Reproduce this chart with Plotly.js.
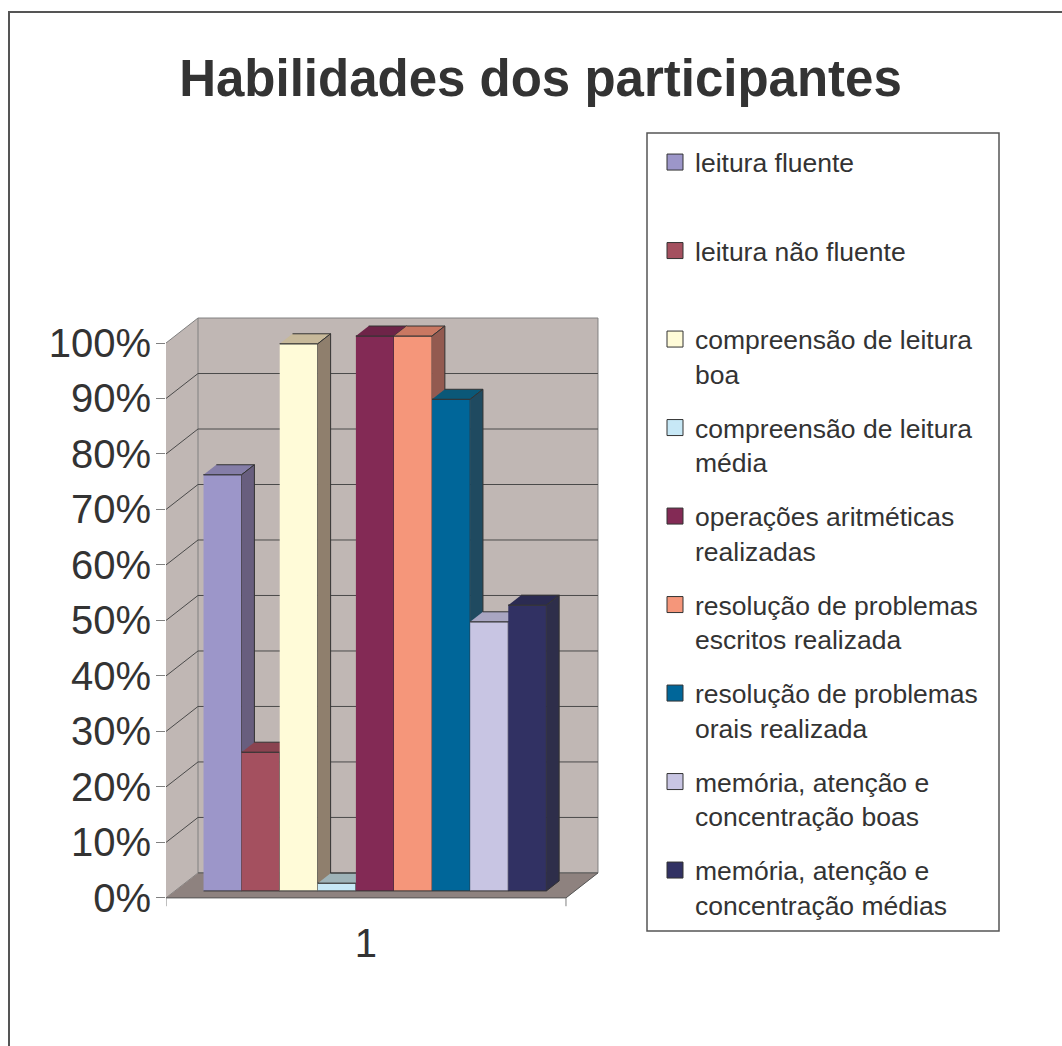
<!DOCTYPE html>
<html><head><meta charset="utf-8">
<script src="https://cdn.plot.ly/plotly-3.0.1.min.js"></script>
<style>html,body{margin:0;padding:0;background:#fff}</style>
</head><body><div id="chart" style="width:1062px;height:1046px"></div>
<script>
// ---- data ----
const categories = ["1"];
const seriesNames = [
  "leitura fluente",
  "leitura não fluente",
  "compreensão de leitura boa",
  "compreensão de leitura média",
  "operações aritméticas realizadas",
  "resolução de problemas escritos realizada",
  "resolução de problemas orais realizada",
  "memória, atenção e concentração boas",
  "memória, atenção e concentração médias"
];
const legendLabels = [
  "leitura fluente<br> ",
  "leitura não fluente<br> ",
  "compreensão de leitura<br>boa",
  "compreensão de leitura<br>média",
  "operações aritméticas<br>realizadas",
  "resolução de problemas<br>escritos realizada",
  "resolução de problemas<br>orais realizada",
  "memória, atenção e<br>concentração boas",
  "memória, atenção e<br>concentração médias"
];
const seriesValues = [0.75, 0.25, 0.986, 0.014, 1.00, 1.00, 0.886, 0.485, 0.515];
const yTickValues = [0, 0.1, 0.2, 0.3, 0.4, 0.5, 0.6, 0.7, 0.8, 0.9, 1.0];

// ---- styles ----
const frontColors = ["#9C96C9","#A4505F","#FFFBD8","#C7E8F6","#832A55","#F5967A","#006699","#C8C5E3","#313163"];
const topColors   = ["#857EA8","#8A4350","#C7B99A","#9EB3B8","#6E2448","#C97862","#0B5878","#A9A6C2","#2B2B52"];
const sideColors  = ["#685E7E","#6E3540","#8F7F6D","#7F9298","#561B38","#935A50","#1F4A60","#8A879E","#2E2E4A"];
const edge = "#333333";
const textColor = "#333333";
const FONT = "Liberation Sans, Arial, Helvetica, sans-serif";

// ---- 3D geometry (layout constants, in axis units) ----
const GAP = 0.75;                 // gap on each side of the cluster (bar widths)
const W = seriesValues.length + 2 * GAP;   // width of the front plane
const DX = 0.84, DY = 0.045;      // full depth offset of the walls
const F0 = 0.28, FD = 0.40;       // bar front depth fraction, bar depth fraction
const fx = F0 * DX, fy = F0 * DY, bx = FD * DX, by = FD * DY;

// pixel frame
const L = 166, PW = 434, T = 300, PH = 609.1;
const Y0 = -0.02, Y1 = 1.0775, X1 = 11.393;
const px2x = p => (p - L) / PW;
const py2y = p => (T + PH - p) / PH;

const traces = [];
const poly = (xs, ys, fill, line, lw) => ({
  type: "scatter", mode: "lines", x: xs, y: ys, fill: "toself",
  fillcolor: fill, line: {color: line, width: lw}, hoverinfo: "skip", showlegend: false
});

// back wall
traces.push(poly([DX, W + DX, W + DX, DX], [DY, DY, 1 + DY, 1 + DY], "#C0B7B4", "#808080", 1));
// left wall
traces.push(poly([0, DX, DX, 0], [0, DY, 1 + DY, 1], "#C0B7B4", "#808080", 1));
// floor
traces.push(poly([0, W, W + DX, DX], [0, 0, DY, DY], "#8E827F", "#555555", 1));

// grid lines on walls
const gx = [], gy = [];
yTickValues.forEach(v => {
  if (v > 0 && v < 1) {
    gx.push(0, DX, W + DX, null);
    gy.push(v, v + DY, v + DY, null);
  }
});
traces.push({type: "scatter", mode: "lines", x: gx, y: gy, line: {color: "#4A4A4A", width: 1},
  hoverinfo: "skip", showlegend: false});

// category tick marks at the floor front edge
traces.push({type: "scatter", mode: "lines", x: [0, 0, null, W, W], y: [0, -0.015, null, 0, -0.015],
  line: {color: "#808080", width: 1}, hoverinfo: "skip", showlegend: false});

// bars, left to right
seriesValues.forEach((v, i) => {
  const xl = GAP + i + fx, xr = xl + 1;
  const b = fy, t = fy + v;
  traces.push(Object.assign(poly([xl, xr, xr, xl], [b, b, t, t], frontColors[i], edge, 1), {name: seriesNames[i], hoverinfo: "name"}));
  traces.push(poly([xl, xr, xr + bx, xl + bx], [t, t, t + by, t + by], topColors[i], edge, 1));
  traces.push(poly([xr, xr + bx, xr + bx, xr], [b, b + by, t + by, t], sideColors[i], edge, 1));
});

// legend entries
seriesNames.forEach((n, i) => {
  traces.push({type: "scatter", mode: "markers", x: [null], y: [null], name: legendLabels[i],
    legendgroup: "g" + i, showlegend: true, hoverinfo: "skip",
    marker: {symbol: "square", size: 16, color: frontColors[i], line: {color: edge, width: 1}}});
});

const layout = {
  width: 1062, height: 1046,
  margin: {l: L, r: 1062 - L - PW, t: T, b: 1046 - T - PH, pad: 0},
  paper_bgcolor: "#ffffff", plot_bgcolor: "rgba(0,0,0,0)",
  font: {family: FONT, color: textColor},
  title: {text: "<b>Habilidades dos participantes</b>", x: 540.5 / 1062, xanchor: "center",
    y: 1 - 78 / 1046, yanchor: "middle", yref: "container",
    font: {family: FONT, size: 51, color: textColor}},
  showlegend: true,
  legend: {x: px2x(655), y: py2y(138.3), xanchor: "left", yanchor: "top", maxheight: 1000,
    bgcolor: "rgba(0,0,0,0)", borderwidth: 0, traceorder: "grouped", tracegroupgap: 16.6,
    valign: "top", font: {family: FONT, size: 26.5, color: textColor}},
  xaxis: {range: [0, X1], tickvals: [W / 2], ticktext: categories, ticks: "",
    showgrid: false, zeroline: false, showline: false, ticklabelstandoff: 7,
    tickfont: {family: FONT, size: 40, color: textColor}, fixedrange: true},
  yaxis: {range: [Y0, Y1], tickvals: yTickValues, tickformat: ".0%", ticks: "outside",
    ticklen: 9, tickcolor: "#808080", tickwidth: 1, showgrid: false, zeroline: false, showline: false,
    ticklabelstandoff: -3, tickfont: {family: FONT, size: 40, color: textColor}, fixedrange: true},
  shapes: [
    {type: "rect", xref: "paper", yref: "paper", x0: px2x(647), x1: px2x(999), y0: py2y(931), y1: py2y(133),
      line: {color: "#555555", width: 1.5}, fillcolor: "rgba(0,0,0,0)", layer: "below"},
    {type: "rect", xref: "paper", yref: "paper", x0: px2x(9), x1: px2x(1075), y0: py2y(1060), y1: py2y(12),
      line: {color: "#555555", width: 2}, fillcolor: "rgba(0,0,0,0)", layer: "below"}
  ]
};

Plotly.newPlot("chart", traces, layout, {displayModeBar: false, staticPlot: true});
</script>
</body></html>
